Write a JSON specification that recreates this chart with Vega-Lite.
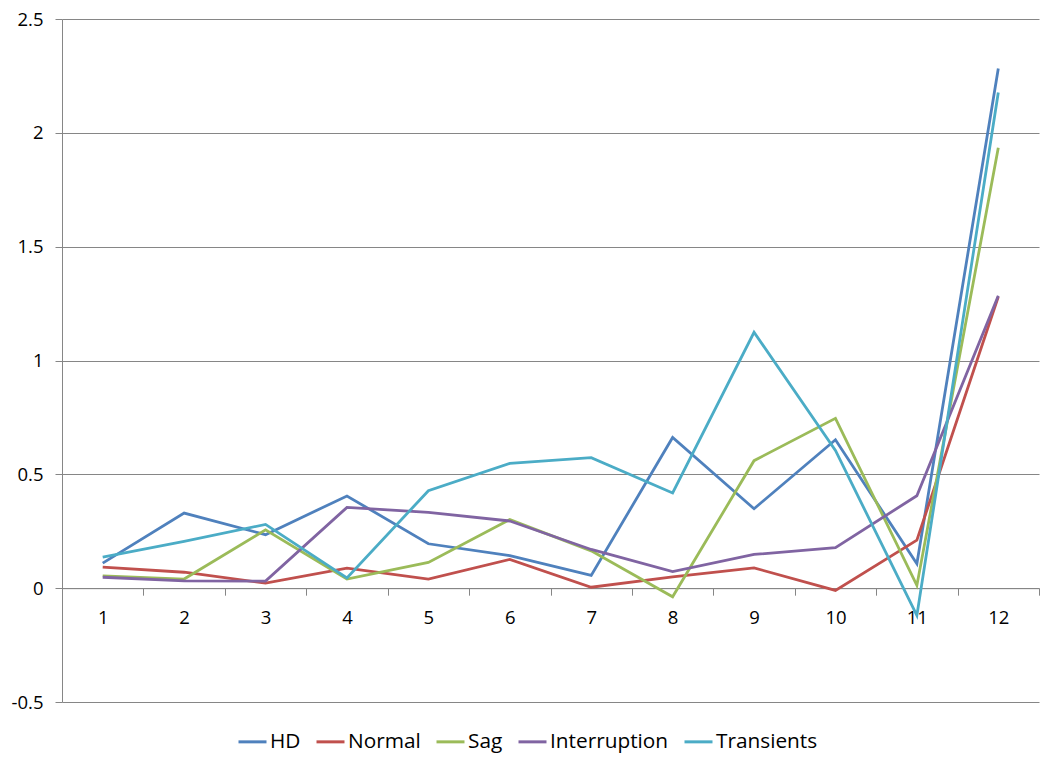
{
  "$schema": "https://vega.github.io/schema/vega-lite/v6.json",
  "width": 977,
  "height": 683,
  "autosize": "none",
  "padding": {"left": 62, "top": 19, "right": 17, "bottom": 66},
  "background": "white",
  "config": {
    "view": {"stroke": null},
    "font": "Open Sans"
  },
  "data": {
    "values": [
      {"x": "1", "series": "HD", "value": 0.11},
      {"x": "2", "series": "HD", "value": 0.33},
      {"x": "3", "series": "HD", "value": 0.235},
      {"x": "4", "series": "HD", "value": 0.405},
      {"x": "5", "series": "HD", "value": 0.195},
      {"x": "6", "series": "HD", "value": 0.143},
      {"x": "7", "series": "HD", "value": 0.056},
      {"x": "8", "series": "HD", "value": 0.662},
      {"x": "9", "series": "HD", "value": 0.349},
      {"x": "10", "series": "HD", "value": 0.652},
      {"x": "11", "series": "HD", "value": 0.107},
      {"x": "12", "series": "HD", "value": 2.283},
      {"x": "1", "series": "Normal", "value": 0.092},
      {"x": "2", "series": "Normal", "value": 0.07},
      {"x": "3", "series": "Normal", "value": 0.022},
      {"x": "4", "series": "Normal", "value": 0.088},
      {"x": "5", "series": "Normal", "value": 0.04},
      {"x": "6", "series": "Normal", "value": 0.126},
      {"x": "7", "series": "Normal", "value": 0.004},
      {"x": "8", "series": "Normal", "value": 0.05},
      {"x": "9", "series": "Normal", "value": 0.089},
      {"x": "10", "series": "Normal", "value": -0.01},
      {"x": "11", "series": "Normal", "value": 0.211},
      {"x": "12", "series": "Normal", "value": 1.28},
      {"x": "1", "series": "Sag", "value": 0.054},
      {"x": "2", "series": "Sag", "value": 0.04},
      {"x": "3", "series": "Sag", "value": 0.256},
      {"x": "4", "series": "Sag", "value": 0.04},
      {"x": "5", "series": "Sag", "value": 0.113},
      {"x": "6", "series": "Sag", "value": 0.301},
      {"x": "7", "series": "Sag", "value": 0.164},
      {"x": "8", "series": "Sag", "value": -0.038},
      {"x": "9", "series": "Sag", "value": 0.56},
      {"x": "10", "series": "Sag", "value": 0.746},
      {"x": "11", "series": "Sag", "value": 0.012},
      {"x": "12", "series": "Sag", "value": 1.934},
      {"x": "1", "series": "Interruption", "value": 0.048},
      {"x": "2", "series": "Interruption", "value": 0.032},
      {"x": "3", "series": "Interruption", "value": 0.031},
      {"x": "4", "series": "Interruption", "value": 0.355},
      {"x": "5", "series": "Interruption", "value": 0.333},
      {"x": "6", "series": "Interruption", "value": 0.295},
      {"x": "7", "series": "Interruption", "value": 0.17},
      {"x": "8", "series": "Interruption", "value": 0.073},
      {"x": "9", "series": "Interruption", "value": 0.148},
      {"x": "10", "series": "Interruption", "value": 0.178},
      {"x": "11", "series": "Interruption", "value": 0.406},
      {"x": "12", "series": "Interruption", "value": 1.284},
      {"x": "1", "series": "Transients", "value": 0.136},
      {"x": "2", "series": "Transients", "value": 0.206},
      {"x": "3", "series": "Transients", "value": 0.28},
      {"x": "4", "series": "Transients", "value": 0.045},
      {"x": "5", "series": "Transients", "value": 0.428},
      {"x": "6", "series": "Transients", "value": 0.548},
      {"x": "7", "series": "Transients", "value": 0.573},
      {"x": "8", "series": "Transients", "value": 0.418},
      {"x": "9", "series": "Transients", "value": 1.124},
      {"x": "10", "series": "Transients", "value": 0.605},
      {"x": "11", "series": "Transients", "value": -0.12},
      {"x": "12", "series": "Transients", "value": 2.177}
    ]
  },
  "mark": {"type": "line", "strokeWidth": 2.8, "strokeJoin": "miter", "strokeCap": "butt"},
  "encoding": {
    "x": {
      "field": "x",
      "type": "ordinal",
      "bandPosition": 0.5,
      "sort": ["1","2","3","4","5","6","7","8","9","10","11","12"],
      "scale": {"type": "band", "paddingInner": 0, "paddingOuter": 0},
      "axis": {
        "title": null,
        "orient": "bottom",
        "offset": -113.83,
        "labelAngle": 0,
        "tickBand": "extent",
        "tickSize": 7,
        "tickColor": "#868686",
        "domainColor": "#868686",
        "domainWidth": 1,
        "labelFontSize": 18.5,
        "labelColor": "#000000",
        "labelPadding": 13,
        "grid": false
      }
    },
    "y": {
      "field": "value",
      "type": "quantitative",
      "scale": {"domain": [-0.5, 2.5], "nice": false, "zero": false},
      "axis": {
        "title": null,
        "values": [-0.5, 0, 0.5, 1, 1.5, 2, 2.5],
        "labelExpr": "'' + datum.value",
        "grid": true,
        "gridColor": "#868686",
        "gridWidth": 1,
        "domainColor": "#868686",
        "tickColor": "#868686",
        "tickSize": 7,
        "labelFontSize": 18.5,
        "labelColor": "#000000",
        "labelPadding": 12
      }
    },
    "color": {
      "field": "series",
      "type": "nominal",
      "scale": {
        "domain": ["HD", "Normal", "Sag", "Interruption", "Transients"],
        "range": ["#4F81BD", "#C0504D", "#9BBB59", "#8064A2", "#4BACC6"]
      },
      "legend": {
        "title": null,
        "orient": "none",
        "legendX": 175,
        "legendY": 707,
        "direction": "horizontal",
        "symbolType": "stroke",
        "symbolSize": 784,
        "symbolStrokeWidth": 3,
        "labelFontSize": 20.8,
        "labelColor": "#000000",
        "labelOffset": 2,
        "columnPadding": 9
      }
    }
  }
}
